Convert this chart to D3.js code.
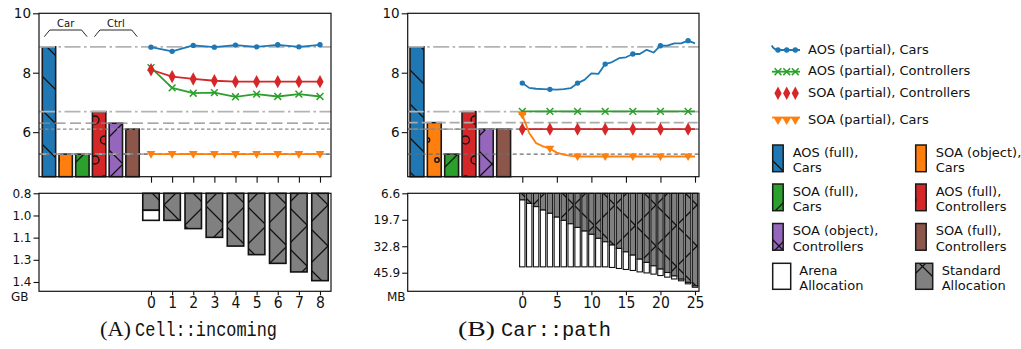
<!DOCTYPE html>
<html>
<head>
<meta charset="utf-8">
<script src="https://cdn.jsdelivr.net/npm/d3@7"></script>
<style>
  body { margin: 0; background: #fff; }
  text { font-family: "DejaVu Sans", sans-serif; fill: #111; }
</style>
</head>
<body>
<svg id="chart" width="1021" height="349"></svg>
<script>
// ---- data ----
const barKeys = ["aosFullCars", "soaObjCars", "soaFullCars", "aosFullCtrl", "soaObjCtrl", "soaFullCtrl"];
const barLegend = [["AOS (full),", "Cars"], ["SOA (object),", "Cars"], ["SOA (full),", "Cars"],
                   ["AOS (full),", "Controllers"], ["SOA (object),", "Controllers"], ["SOA (full),", "Controllers"]];
const lineLegend = ["AOS (partial), Cars", "AOS (partial), Controllers", "SOA (partial), Controllers", "SOA (partial), Cars"];
const allocLegend = [["Arena", "Allocation"], ["Standard", "Allocation"]];
const groupLabels = ["Car", "Ctrl"];
const speedTicks = [6, 8, 10];

// (A) Cell::incoming
const incomingFull = [8.87, 5.26, 5.26, 6.69, 6.30, 6.10];
const incomingX = [0, 1, 2, 3, 4, 5, 6, 7, 8];
const incomingAosCars = [8.86, 8.72, 8.92, 8.86, 8.93, 8.87, 8.94, 8.87, 8.94];
const incomingAosCtrl = [8.17, 7.49, 7.31, 7.33, 7.19, 7.28, 7.20, 7.28, 7.20];
const incomingSoaCtrl = [8.10, 7.87, 7.79, 7.73, 7.70, 7.70, 7.70, 7.70, 7.70];
const incomingSoaCars = [5.26, 5.26, 5.26, 5.26, 5.26, 5.26, 5.26, 5.26, 5.26];
const incomingStdGB = [0.945, 1.013, 1.069, 1.128, 1.187, 1.245, 1.304, 1.362, 1.421];
const incomingArenaGB = [0.068, 0, 0, 0, 0, 0, 0, 0, 0];
const incomingMemTicks = [0.83, 0.98, 1.13, 1.28, 1.43];

// (B) Car::path
const pathFull = [8.87, 6.32, 5.26, 6.69, 6.10, 6.10];
const pathX = [0, 1, 2, 3, 4, 5, 6, 7, 8, 9, 10, 11, 12, 13, 14, 15, 16, 17, 18, 19, 20, 21, 22, 23, 24, 25];
const pathAosCars = [7.65, 7.49, 7.46, 7.45, 7.44, 7.43, 7.45, 7.48, 7.65, 7.76, 7.98, 7.96, 8.29,
                     8.36, 8.49, 8.52, 8.63, 8.63, 8.77, 8.68, 8.91, 8.91, 8.99, 8.99, 9.08, 8.99];
const pathAosCtrl = [6.70, 6.70, 6.70, 6.70, 6.70, 6.70, 6.70, 6.70, 6.70, 6.70, 6.70, 6.70, 6.70,
                     6.70, 6.70, 6.70, 6.70, 6.70, 6.70, 6.70, 6.70, 6.70, 6.70, 6.70, 6.70, 6.70];
const pathSoaCtrl = [6.10, 6.10, 6.10, 6.10, 6.10, 6.10, 6.10, 6.10, 6.10, 6.10, 6.10, 6.10, 6.10,
                     6.10, 6.10, 6.10, 6.10, 6.10, 6.10, 6.10, 6.10, 6.10, 6.10, 6.10, 6.10, 6.10];
const pathSoaCars = [6.58, 5.97, 5.63, 5.52, 5.44, 5.31, 5.24, 5.20, 5.18, 5.18, 5.18, 5.18, 5.18,
                     5.18, 5.18, 5.18, 5.18, 5.18, 5.18, 5.18, 5.18, 5.18, 5.18, 5.18, 5.18, 5.18];
const pathStdMB = [9.9, 11.6, 13.2, 14.9, 16.5, 18.4, 20.0, 21.7, 23.5, 25.3, 26.9, 28.9, 30.6,
                   32.2, 33.9, 35.6, 37.2, 39.2, 40.8, 42.5, 44.1, 45.8, 47.5, 49.1, 50.7, 52.4];
const pathArenaMB = [33.1, 31.4, 29.8, 28.1, 26.5, 24.6, 23.0, 21.3, 19.5, 17.7, 16.1, 14.1, 12.4,
                     11.1, 9.9, 8.7, 7.6, 6.3, 5.2, 4.1, 3.2, 2.3, 1.5, 0.8, 0.7, 0.7];
const pathMemTicks = [6.6, 19.7, 32.8, 45.9];

// ---- styles ----
const barColor = { aosFullCars: "#1f77b4", soaObjCars: "#ff7f0e", soaFullCars: "#2ca02c",
                   aosFullCtrl: "#d62728", soaObjCtrl: "#9467bd", soaFullCtrl: "#8c564b" };
const barHatch = { aosFullCars: "back", soaObjCars: "dots", soaFullCars: "fwd",
                   aosFullCtrl: "rings", soaObjCtrl: "cross", soaFullCtrl: null };
// reference line per bar: dash, colour, width
const refStyle = { aosFullCars: ["16,3.5,2.5,3.5", "#b3b3b3", 1.7], soaObjCars: ["10,4", "#aaaaaa", 1.7],
                   soaFullCars: ["4,3", "#6e6e6e", 1.1], aosFullCtrl: ["16,3.5,2.5,3.5", "#b3b3b3", 1.7],
                   soaObjCtrl: ["11,4.5", "#8a8a8a", 1.2], soaFullCtrl: ["3.5,2.5", "#8a8a8a", 1.1] };
const lineColor = ["#1f77b4", "#2ca02c", "#d62728", "#ff7f0e"];
const lineMarker = ["circle", "x", "thinDiamond", "triDown"];

const svg = d3.select("#chart");
const defs = svg.append("defs");

// hatch patterns, global coordinates like matplotlib
function linePattern(id, s, back, fwd) {
  const q = s / 4;
  let d = "";
  if (back) d += `M0,0L${s},${s}M${-q},${s - q}L${q},${s + q}M${s - q},${-q}L${s + q},${q}`;
  if (fwd) d += `M0,${s}L${s},0M${-q},${q}L${q},${-q}M${s - q},${s + q}L${s + q},${s - q}`;
  defs.append("pattern").attr("id", id).attr("patternUnits", "userSpaceOnUse")
    .attr("width", s).attr("height", s)
    .append("path").attr("d", d).attr("fill", "none").attr("stroke", "#111").attr("stroke-width", 1.3);
}
function circlePattern(id, w, h, r) {
  const p = defs.append("pattern").attr("id", id).attr("patternUnits", "userSpaceOnUse")
    .attr("width", w).attr("height", h);
  [[0, 0], [w, 0], [0, h], [w, h], [w / 2, h / 2]].forEach(([cx, cy]) => {
    p.append("circle").attr("cx", cx).attr("cy", cy).attr("r", r)
      .attr("fill", "none").attr("stroke", "#111").attr("stroke-width", 1.4);
  });
}
linePattern("back", 34, true, false);
linePattern("fwd", 34, false, true);
linePattern("cross", 41, true, true);
circlePattern("dots", 19, 40, 2.2);
circlePattern("rings", 19, 40, 4);

function marker(sel, type, color) {
  if (type === "circle") {
    sel.append("circle").attr("r", 2.7).attr("fill", color);
  } else if (type === "x") {
    sel.append("path").attr("d", "M-3.4,-3.4L3.4,3.4M-3.4,3.4L3.4,-3.4")
      .attr("stroke", color).attr("stroke-width", 1.5).attr("fill", "none");
  } else if (type === "thinDiamond") {
    sel.append("path").attr("d", "M0,-6.7L3.6,0L0,6.7L-3.6,0Z").attr("fill", color);
  } else {
    sel.append("path").attr("d", "M-4.4,-3L4.4,-3L0,4.6Z").attr("fill", color);
  }
}

function styleTicks(axisG, size, family) {
  axisG.attr("font-family", null).attr("font-size", null);
  axisG.selectAll("text").style("font-size", size + "px").style("font-family", family).attr("fill", "#111");
  axisG.selectAll("line").attr("stroke", "#111").attr("stroke-width", 1.1);
  axisG.select(".domain").remove();
}

function drawPanel(c) {
  const g = svg.append("g");
  const ySpeed = d3.scaleLinear().domain([4.5, 10]).range([c.topBottom, c.top]);
  const xBar = d3.scaleBand().domain(barKeys).range(c.barRange).paddingInner(0.2).paddingOuter(0.1);
  const x = d3.scaleLinear().domain(c.xDomain).range(c.lineRange);
  const yMem = d3.scaleLinear().domain(c.memDomain).range([c.botTop, c.botBottom]).clamp(true);

  // full-load bars
  const bars = g.append("g").selectAll("g").data(barKeys).join("g");
  bars.append("rect")
    .attr("x", k => xBar(k)).attr("width", xBar.bandwidth())
    .attr("y", (k, i) => ySpeed(c.full[i])).attr("height", (k, i) => ySpeed(4.5) - ySpeed(c.full[i]))
    .attr("fill", k => barColor[k]);
  bars.filter(k => barHatch[k]).append("rect")
    .attr("x", k => xBar(k)).attr("width", xBar.bandwidth())
    .attr("y", k => ySpeed(c.full[barKeys.indexOf(k)]))
    .attr("height", k => ySpeed(4.5) - ySpeed(c.full[barKeys.indexOf(k)]))
    .attr("fill", k => `url(#${barHatch[k]})`);
  bars.append("rect")
    .attr("x", k => xBar(k)).attr("width", xBar.bandwidth())
    .attr("y", (k, i) => ySpeed(c.full[i])).attr("height", (k, i) => ySpeed(4.5) - ySpeed(c.full[i]))
    .attr("fill", "none").attr("stroke", "#1a1a1a").attr("stroke-width", 1.6);

  // reference lines at each bar's height
  g.append("g").selectAll("line").data(barKeys).join("line")
    .attr("x1", c.left).attr("x2", c.right)
    .attr("y1", (k, i) => ySpeed(c.full[i])).attr("y2", (k, i) => ySpeed(c.full[i]))
    .attr("stroke-dasharray", k => refStyle[k][0]).attr("stroke", k => refStyle[k][1])
    .attr("stroke-width", k => refStyle[k][2]);

  // Car / Ctrl brackets
  if (c.groups) {
    const gg = g.append("g");
    [[0, 2], [3, 5]].forEach(([a, b], i) => {
      const x0 = xBar(barKeys[a]) + 2, x1 = xBar(barKeys[b]) + xBar.bandwidth() - 2;
      gg.append("path").attr("d", `M${x0},36.7L${x0 + 5.5},30L${x1 - 5.5},30L${x1},36.7`)
        .attr("fill", "none").attr("stroke", "#111").attr("stroke-width", 0.9);
      gg.append("text").attr("x", (x0 + x1) / 2).attr("y", 26.7).attr("text-anchor", "middle")
        .style("font-size", "10px").text(groupLabels[i]);
    });
  }

  // partial-load lines
  c.series.forEach((vals, si) => {
    const line = d3.line().x((d, i) => x(c.xs[i])).y(d => ySpeed(d));
    g.append("path").datum(vals).attr("d", line).attr("fill", "none")
      .attr("stroke", lineColor[si]).attr("stroke-width", 1.8).attr("stroke-linejoin", "round");
  });
  c.series.forEach((vals, si) => {
    const pts = vals.map((v, i) => [c.xs[i], v]).filter((d, i) => i % c.markEvery === 0);
    g.append("g").selectAll("g").data(pts).join("g")
      .attr("transform", d => `translate(${x(d[0])},${ySpeed(d[1])})`)
      .each(function () { marker(d3.select(this), lineMarker[si], lineColor[si]); });
  });

  // memory bars: standard at the base, arena stacked after
  const bw = (x(1) - x(0)) * 0.78;
  const mem = g.append("g");
  mem.selectAll(".std").data(c.xs).join("g").each(function (xv, i) {
    const s = c.std[i], a = c.arena[i];
    const sel = d3.select(this);
    const y0 = yMem(0), y1 = yMem(s), y2 = yMem(s + a);
    sel.append("rect").attr("x", x(xv) - bw / 2).attr("width", bw).attr("y", y0).attr("height", y1 - y0)
      .attr("fill", "#808080");
    sel.append("rect").attr("x", x(xv) - bw / 2).attr("width", bw).attr("y", y0).attr("height", y1 - y0)
      .attr("fill", "url(#cross)").attr("stroke", "#111").attr("stroke-width", c.memStroke);
    if (a > 0) {
      sel.append("rect").attr("x", x(xv) - bw / 2).attr("width", bw).attr("y", y1).attr("height", y2 - y1)
        .attr("fill", "#fff").attr("stroke", "#111").attr("stroke-width", c.memStroke);
    }
  });

  // axes
  const ya = g.append("g").attr("transform", `translate(${c.left},0)`)
    .call(d3.axisLeft(ySpeed).tickValues(speedTicks).tickSize(6).tickPadding(2).tickFormat(d3.format("d")));
  styleTicks(ya, 13.5, "DejaVu Sans");
  const xt = g.append("g").attr("transform", `translate(0,${c.topBottom})`)
    .call(d3.axisBottom(x).tickValues(c.xTicks).tickSize(6).tickFormat(""));
  styleTicks(xt, 13, "DejaVu Sans");
  const ym = g.append("g").attr("transform", `translate(${c.left},0)`)
    .call(d3.axisLeft(yMem).tickValues(c.memTicks).tickSize(5.5).tickPadding(2).tickFormat(d3.format(".1f")));
  styleTicks(ym, 12, "DejaVu Sans");
  const xb = g.append("g").attr("transform", `translate(0,${c.botBottom})`)
    .call(d3.axisBottom(x).tickValues(c.xTicks).tickSize(4).tickPadding(2));
  styleTicks(xb, 15.5, "'DejaVu Sans Condensed', 'DejaVu Sans'");

  g.append("text").attr("x", c.unitX).attr("y", c.unitY).style("font-size", "12px").text(c.unit);

  // frames
  [[c.top, c.topBottom], [c.botTop, c.botBottom]].forEach(([t, b]) => {
    g.append("rect").attr("x", c.left).attr("y", t).attr("width", c.right - c.left).attr("height", b - t)
      .attr("fill", "none").attr("stroke", "#111").attr("stroke-width", 1.2);
  });

  // caption
  g.append("text").attr("x", c.cap[0]).attr("y", 336).attr("textLength", c.cap[1]).attr("lengthAdjust", "spacingAndGlyphs")
    .style("font-family", "'Liberation Serif', serif").style("font-size", "20px").text(c.capTag);
  g.append("text").attr("x", c.cap[2]).attr("y", 336).attr("textLength", c.cap[3]).attr("lengthAdjust", "spacingAndGlyphs")
    .style("font-family", "'Liberation Mono', monospace").style("font-size", "20px").text(c.capName);
}

drawPanel({
  left: 39, right: 331, top: 13.3, topBottom: 176.7, botTop: 193.3, botBottom: 291.3,
  barRange: [40.6, 140.9], lineRange: [151, 320], xDomain: [0, 8], xTicks: incomingX,
  xs: incomingX, full: incomingFull, groups: true, markEvery: 1,
  series: [incomingAosCars, incomingAosCtrl, incomingSoaCtrl, incomingSoaCars],
  memDomain: [0.83, 1.493], memTicks: incomingMemTicks, std: incomingStdGB, arena: incomingArenaGB, memStroke: 1.6,
  unit: "GB", unitX: 11, unitY: 300.5, cap: [100, 31, 135, 142], capTag: "(A)", capName: "Cell::incoming"
});
drawPanel({
  left: 407.7, right: 699, top: 13.3, topBottom: 176.7, botTop: 193.3, botBottom: 291.3,
  barRange: [408.3, 512.3], lineRange: [522.3, 695], xDomain: [0, 25], xTicks: [0, 5, 10, 15, 20, 25],
  xs: pathX, full: pathFull, groups: false, markEvery: 4,
  series: [pathAosCars, pathAosCtrl, pathSoaCtrl, pathSoaCars],
  memDomain: [6.6, 55.1], memTicks: pathMemTicks, std: pathStdMB, arena: pathArenaMB, memStroke: 1.1,
  unit: "MB", unitX: 387, unitY: 300.5, cap: [458, 37, 501, 110], capTag: "(B)", capName: "Car::path"
});

// ---- legend ----
const lg = svg.append("g");
const lineRows = [50, 71.7, 93.3, 119];
const textRows = [53.5, 75.2, 97.3, 124];
lineLegend.forEach((label, i) => {
  const y = lineRows[i];
  if (i === 0) {
    lg.append("path").attr("d", `M771.7,45.5Q774,50 778.5,50L800,50`).attr("fill", "none")
      .attr("stroke", lineColor[i]).attr("stroke-width", 1.8);
  } else if (i !== 2) {
    const ly = i === 3 ? y - 1.5 : y;
    lg.append("line").attr("x1", 772).attr("x2", 800).attr("y1", ly).attr("y2", ly)
      .attr("stroke", lineColor[i]).attr("stroke-width", 1.8);
  }
  [778, 786.7, 795.3].forEach(mx => {
    const m = lg.append("g").attr("transform", `translate(${mx},${i === 3 ? y + 1.5 : y})`);
    marker(m, lineMarker[i], lineColor[i]);
  });
  lg.append("text").attr("x", 808).attr("y", textRows[i]).style("font-size", "13px").text(label);
});

const rowTops = [145, 184, 223.5, 263.3];
const colX = [772.7, 915.7];
barKeys.forEach((k, i) => {
  const col = i % 2, row = Math.floor(i / 2);
  const x0 = colX[col], y0 = rowTops[row];
  lg.append("rect").attr("x", x0).attr("y", y0).attr("width", 10.5).attr("height", 26.7).attr("fill", barColor[k]);
  if (barHatch[k]) lg.append("rect").attr("x", x0).attr("y", y0).attr("width", 10.5).attr("height", 26.7)
    .attr("fill", `url(#${barHatch[k]})`);
  lg.append("rect").attr("x", x0).attr("y", y0).attr("width", 10.5).attr("height", 26.7)
    .attr("fill", "none").attr("stroke", "#1a1a1a").attr("stroke-width", 1.5);
  barLegend[i].forEach((t, j) => {
    lg.append("text").attr("x", x0 + 20).attr("y", y0 + 11.5 + j * 15.5).style("font-size", "13px").text(t);
  });
});
allocLegend.forEach((lines, i) => {
  const x0 = colX[i], y0 = rowTops[3];
  lg.append("rect").attr("x", x0).attr("y", y0).attr("width", i ? 17 : 18).attr("height", 26)
    .attr("fill", i ? "#808080" : "#fff");
  lg.append("rect").attr("x", x0).attr("y", y0).attr("width", i ? 17 : 18).attr("height", 26)
    .attr("fill", i ? "url(#cross)" : "none").attr("stroke", "#1a1a1a").attr("stroke-width", 1.5);
  lines.forEach((t, j) => {
    lg.append("text").attr("x", x0 + (i ? 26 : 26.6)).attr("y", y0 + 11.5 + j * 15.5).style("font-size", "13px").text(t);
  });
});
</script>
</body>
</html>
